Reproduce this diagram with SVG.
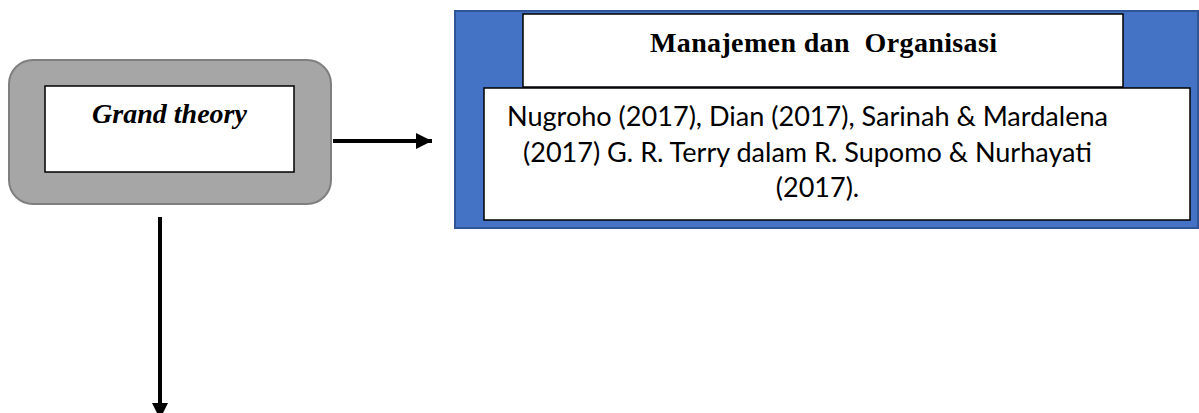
<svg xmlns="http://www.w3.org/2000/svg" width="1199" height="413" viewBox="0 0 1199 413">
<style>
.box{fill:#fff;stroke:#000;stroke-width:1.5}
.serif{font-family:"Liberation Serif","Times New Roman",serif;font-weight:bold;fill:#000}
.body{font-family:Lato,"Noto Sans",sans-serif;font-size:27px;fill:#000}
.conn{stroke:#000;stroke-width:4;fill:none}
</style>
<defs>
<marker id="ah" markerWidth="5" markerHeight="5" refX="4" refY="2" orient="auto" markerUnits="strokeWidth">
<path d="M0,0 L4,2 L0,4 Z" fill="#000"/>
</marker>
</defs>
<g id="grand-theory">
<rect x="9" y="60" width="322" height="144" rx="24" fill="#a6a6a6" stroke="#7f7f7f" stroke-width="2"/>
<rect class="box" x="45" y="86" width="249" height="86"/>
<text class="serif" x="169.5" y="123" font-size="28" font-style="italic" text-anchor="middle">Grand theory</text>
</g>
<g id="manajemen">
<rect x="455" y="11" width="743" height="217" fill="#4472c4" stroke="#2f5597" stroke-width="2"/>
<rect class="box" x="523" y="14" width="600" height="73"/>
<text class="serif" x="650" y="52" font-size="28" textLength="347" lengthAdjust="spacing" xml:space="preserve">Manajemen dan  Organisasi</text>
<rect class="box" x="484" y="88" width="706" height="132"/>
<text class="body">
<tspan x="507" y="126" textLength="601" lengthAdjust="spacingAndGlyphs">Nugroho (2017), Dian (2017), Sarinah &amp; Mardalena</tspan>
<tspan x="523" y="162" textLength="569" lengthAdjust="spacingAndGlyphs">(2017) G. R. Terry dalam R. Supomo &amp; Nurhayati</tspan>
<tspan x="817.5" y="197" text-anchor="middle">(2017).</tspan>
</text>
</g>
<g id="connectors">
<line class="conn" x1="333" y1="141" x2="432" y2="141" marker-end="url(#ah)"/>
<line class="conn" x1="160" y1="217" x2="160" y2="419" marker-end="url(#ah)"/>
</g>
</svg>
